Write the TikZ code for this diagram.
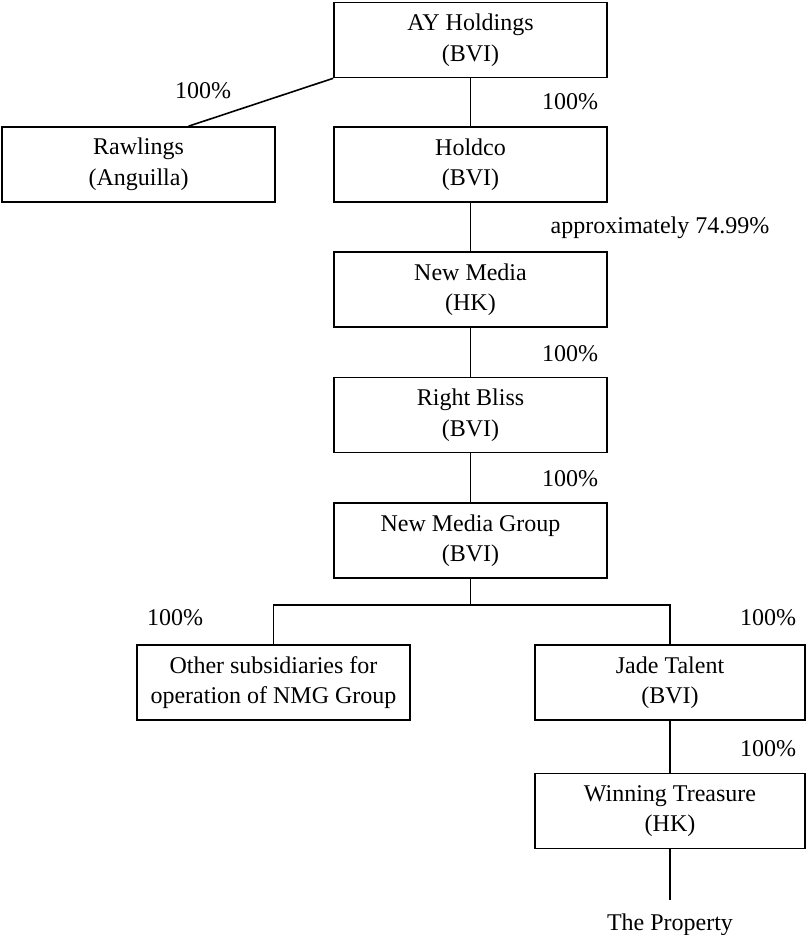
\documentclass[tikz,border=0pt]{standalone}
\usepackage{fontspec}
\setmainfont{Liberation Serif}
\usetikzlibrary{positioning}
\tikzset{
  entity/.style={draw,line width=1.6pt,minimum width=273pt,minimum height=75pt,
    inner sep=0pt,align=center,font=\fontsize{24}{30.5}\selectfont},
  holding/.style={line width=1.6pt},
  share/.style={anchor=base,inner sep=0pt,font=\fontsize{24}{28}\selectfont}
}

\begin{document}
\begin{tikzpicture}[x=1pt,y=-1pt,
  narrowentity/.style={entity,minimum width=270pt}
]
  \useasboundingbox (0,0) rectangle (806,935);
  \node[entity] (ay) at (470.5,40) {AY Holdings\\(BVI)};
  \node[entity] (rawlings) at (138.5,164.5) {Rawlings\\(Anguilla)};
  \node[entity] (holdco) at (470.5,164.5) {Holdco\\(BVI)};
  \node[entity] (newmedia) at (470.5,289.5) {New Media\\(HK)};
  \node[entity] (rightbliss) at (470.5,415) {Right Bliss\\(BVI)};
  \node[entity] (nmg) at (470.5,540.5) {New Media Group\\(BVI)};
  \node[entity] (other) at (273.5,682.5) {Other subsidiaries for\\operation of NMG Group};
  \node[narrowentity] (jade) at (670,682.5) {Jade Talent\\(BVI)};
  \node[narrowentity] (winning) at (670,811) {Winning Treasure\\(HK)};
  \node[share] (property) at (670,930) {The Property};
  \coordinate (bus) at (470.5,605);
  \draw[holding] (ay.south west) -- ([xshift=50pt]rawlings.north);
  \draw[holding] (ay) -- (holdco);
  \draw[holding] (holdco) -- (newmedia);
  \draw[holding] (newmedia) -- (rightbliss);
  \draw[holding] (rightbliss) -- (nmg);
  \draw[holding] (nmg) -- (bus);
  \draw[holding] (other.north) |- (bus) -| (jade.north);
  \draw[holding] (jade) -- (winning);
  \draw[holding] (winning.south) -- ([yshift=13pt]property.north);
  \node[share] (pctrawlings) at (203,98) {100\%};
  \node[share] (pctholdco) at (570,109) {100\%};
  \node[share] (pctnewmedia) at (660,233) {approximately 74.99\%};
  \node[share] (pctrightbliss) at (570,361) {100\%};
  \node[share] (pctnmg) at (570,486) {100\%};
  \node[share] (pctother) at (175,625) {100\%};
  \node[share] (pctjade) at (768,625) {100\%};
  \node[share] (pctwinning) at (768,756) {100\%};
\end{tikzpicture}
\end{document}
